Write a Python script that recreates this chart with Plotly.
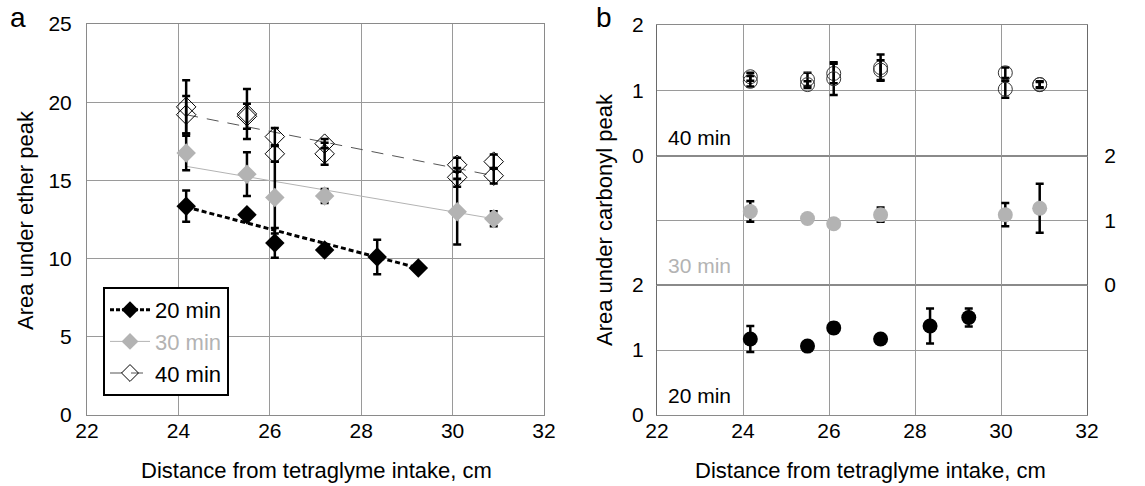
import plotly.graph_objects as go

# ---------------- data ----------------
dist_20 = [24.17, 25.5, 26.11, 27.2, 28.35, 29.25]
dist_30 = [24.17, 25.5, 26.11, 27.2, 30.1, 30.9]
dist_40 = [24.17, 25.5, 26.11, 27.2, 30.1, 30.9]

# panel a: area under ether peak
ether_20 = [13.35, 12.8, 11.0, 10.55, 10.1, 9.4]
ether_20_err = [1.0, 0, 0.95, 0, 1.1, 0]
ether_30 = [16.75, 15.4, 13.9, 14.0, 13.0, 12.55]
ether_30_err = [1.1, 1.4, 2.3, 0.45, 2.1, 0.48]
ether_40a = [19.7, 19.25, 17.8, 17.35, 16.0, 16.2]
ether_40a_err = [1.7, 1.6, 0.55, 0.3, 0.45, 0.45]
ether_40b = [19.2, 19.1, 16.7, 16.7, 15.2, 15.3]
ether_40b_err = [1.2, 0.8, 0.5, 0.7, 0.6, 0.5]

# trend lines (end points)
trend_20_x = [24.17, 29.25]
trend_20_y = [13.3, 9.4]
trend_30_x = [24.17, 30.9]
trend_30_y = [15.9, 12.55]
trend_40_x = [24.17, 30.9]
trend_40_y = [19.2, 15.3]

# panel b: area under carbonyl peak
carb_20 = [1.17, 1.06, 1.34, 1.17, 1.37, 1.5]
carb_20_err = [0.2, 0, 0.08, 0, 0.27, 0.14]
carb_30 = [1.14, 1.03, 0.95, 1.09, 1.09, 1.19]
carb_30_err = [0.16, 0, 0, 0.11, 0.18, 0.38]
carb_40a = [1.21, 1.17, 1.26, 1.35, 1.27, 1.09]
carb_40a_err = [0.06, 0.1, 0.15, 0.2, 0.08, 0.05]
carb_40b = [1.14, 1.09, 1.18, 1.31, 1.02, 1.09]
carb_40b_err = [0.08, 0.05, 0.25, 0.15, 0.13, 0.04]

x_ticks = [22, 24, 26, 28, 30, 32]
ether_ticks = [0, 5, 10, 15, 20, 25]
carb_ticks = [0, 1, 2]

# ---------------- style ----------------
W, H = 1145, 486
BLACK = "#000000"
GRAY = "#b3b3b3"
GRID = "#9a9a9a"
FONT = "Liberation Sans, Arial, sans-serif"
FS = 21


def px(v):
    return v / W


def py(v):
    return 1 - v / H


fig = go.Figure()


def err(vals, thick=2.5, width=4):
    return dict(type="data", array=vals, visible=True, color=BLACK,
                thickness=thick, width=width)


# ----- panel a -----
fig.add_trace(go.Scatter(x=trend_20_x, y=trend_20_y, mode="lines", xaxis="x", yaxis="y",
                         line=dict(color=BLACK, width=3, dash="5px,3px"), showlegend=False))
fig.add_trace(go.Scatter(x=trend_30_x, y=trend_30_y, mode="lines", xaxis="x", yaxis="y",
                         line=dict(color=GRAY, width=1), showlegend=False))
fig.add_trace(go.Scatter(x=trend_40_x, y=trend_40_y, mode="lines", xaxis="x", yaxis="y",
                         line=dict(color="#555555", width=1, dash="12px,9px"), showlegend=False))

fig.add_trace(go.Scatter(x=dist_40, y=ether_40a, mode="markers", xaxis="x", yaxis="y",
                         error_y=err(ether_40a_err),
                         marker=dict(symbol="diamond-open", size=15, color=BLACK, line=dict(width=1)),
                         showlegend=False))
fig.add_trace(go.Scatter(x=dist_40, y=ether_40b, mode="markers", xaxis="x", yaxis="y",
                         error_y=err(ether_40b_err),
                         marker=dict(symbol="diamond-open", size=15, color=BLACK, line=dict(width=1)),
                         showlegend=False))
fig.add_trace(go.Scatter(x=dist_30, y=ether_30, mode="markers", xaxis="x", yaxis="y",
                         error_y=err(ether_30_err),
                         marker=dict(symbol="diamond", size=15, color=GRAY),
                         showlegend=False))
fig.add_trace(go.Scatter(x=dist_20, y=ether_20, mode="markers", xaxis="x", yaxis="y",
                         error_y=err(ether_20_err),
                         marker=dict(symbol="diamond", size=15, color=BLACK),
                         showlegend=False))

# legend entries
fig.add_trace(go.Scatter(x=[None], y=[None], mode="lines+markers", xaxis="x", yaxis="y",
                         name="20 min",
                         line=dict(color=BLACK, width=3, dash="4px,2px"),
                         marker=dict(symbol="diamond", size=13, color=BLACK)))
fig.add_trace(go.Scatter(x=[None], y=[None], mode="lines+markers", xaxis="x", yaxis="y",
                         name="<span style='color:#b3b3b3'>30 min</span>",
                         line=dict(color=GRAY, width=1),
                         marker=dict(symbol="diamond", size=13, color=GRAY)))
fig.add_trace(go.Scatter(x=[None], y=[None], mode="lines+markers", xaxis="x", yaxis="y",
                         name="40 min",
                         line=dict(color="#555555", width=1, dash="12px,9px"),
                         marker=dict(symbol="diamond-open", size=13, color=BLACK, line=dict(width=1))))

# ----- panel b -----
fig.add_trace(go.Scatter(x=dist_20, y=carb_20, mode="markers", xaxis="x2", yaxis="y2",
                         error_y=err(carb_20_err),
                         marker=dict(symbol="circle", size=15, color=BLACK), showlegend=False))
fig.add_trace(go.Scatter(x=dist_30, y=carb_30, mode="markers", xaxis="x3", yaxis="y3",
                         error_y=err(carb_30_err),
                         marker=dict(symbol="circle", size=15, color=GRAY), showlegend=False))
fig.add_trace(go.Scatter(x=dist_40, y=carb_40a, mode="markers", xaxis="x4", yaxis="y4",
                         error_y=err(carb_40a_err),
                         marker=dict(symbol="circle-open", size=14, color="#333333", line=dict(width=1)),
                         showlegend=False))
fig.add_trace(go.Scatter(x=dist_40, y=carb_40b, mode="markers", xaxis="x4", yaxis="y4",
                         error_y=err(carb_40b_err),
                         marker=dict(symbol="circle-open", size=14, color="#333333", line=dict(width=1)),
                         showlegend=False))

tickfont = dict(family=FONT, size=FS, color=BLACK)
titlefont = dict(family=FONT, size=22, color=BLACK)


def xax(**kw):
    d = dict(range=[22, 32], tickvals=x_ticks, showgrid=True, gridcolor=GRID, gridwidth=1,
             zeroline=False, showline=True, linecolor="#8a8a8a", linewidth=1, mirror=True,
             ticks="", tickfont=tickfont, ticklabelstandoff=-3, automargin=False)
    d.update(kw)
    return d


def yax(**kw):
    d = dict(showgrid=True, gridcolor=GRID, gridwidth=1, zeroline=False, showline=True,
             linecolor="#6a6a6a", linewidth=1, mirror=True, ticks="", tickfont=tickfont,
             ticklabelstandoff=8, automargin=False)
    d.update(kw)
    return d


ya_top, ya_m1, ya_m2, ya_bot = py(25), py(156), py(285), py(415)
xr = [px(657), px(1087)]

fig.update_layout(
    width=W, height=H, autosize=False,
    margin=dict(l=0, r=0, t=0, b=0, autoexpand=False),
    paper_bgcolor="white", plot_bgcolor="white",
    font=dict(family=FONT, size=FS, color=BLACK),
    xaxis=xax(domain=[px(87), px(544)], anchor="y"),
    yaxis=yax(domain=[py(415), py(24)], anchor="x", range=[0, 25], tickvals=ether_ticks,
              linecolor="#8a8a8a", ticklabelstandoff=10),
    xaxis2=xax(domain=xr, anchor="y2"),
    yaxis2=yax(domain=[ya_bot, ya_m2], anchor="x2", range=[0, 2], tickvals=carb_ticks),
    xaxis3=xax(domain=xr, anchor="y3", matches="x2", showticklabels=False),
    yaxis3=yax(domain=[ya_m2, ya_m1], anchor="x3", range=[0, 2], tickvals=carb_ticks, side="right",
               ticklabelstandoff=12),
    xaxis4=xax(domain=xr, anchor="y4", matches="x2", showticklabels=False),
    yaxis4=yax(domain=[ya_m1, ya_top], anchor="x4", range=[0, 2], tickvals=carb_ticks),
    legend=dict(x=px(103), y=py(287), xanchor="left", yanchor="top",
                bgcolor="white", bordercolor=BLACK, borderwidth=2,
                font=dict(family=FONT, size=22, color=BLACK), itemwidth=40,
                tracegroupgap=0),
    showlegend=True,
)


def note(text, x, y, size=FS, color=BLACK, angle=0, xanchor="center"):
    return dict(text=text, x=px(x), y=py(y), xref="paper", yref="paper", showarrow=False,
                xanchor=xanchor, yanchor="middle", textangle=angle,
                font=dict(family=FONT, size=size, color=color))


ann = [
    note("a", 18, 18, size=28),
    note("b", 604, 18, size=28),
    note("Area under ether peak", 26, 220, size=22, angle=-90),
    note("Area under carbonyl peak", 605, 220, size=22, angle=-90),
    note("Distance from tetraglyme intake, cm", 316, 470, size=22),
    note("Distance from tetraglyme intake, cm", 870, 470, size=22),
    note("40 min", 666, 137, xanchor="left"),
    note("30 min", 666, 265, color=GRAY, xanchor="left"),
    note("20 min", 666, 395, xanchor="left"),
]
fig.update_layout(annotations=ann)

fig.write_html("out.html")
